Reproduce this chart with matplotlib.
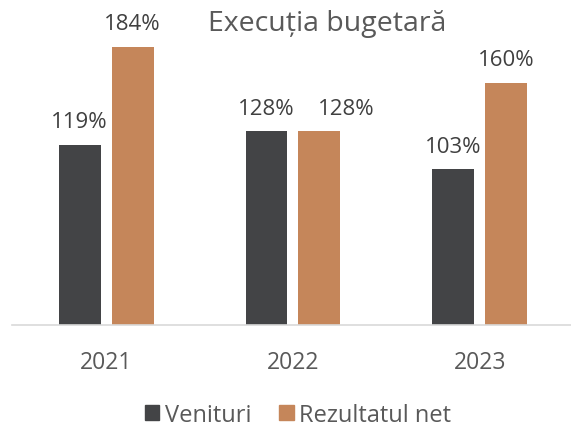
import matplotlib
matplotlib.use("Agg")
import matplotlib.pyplot as plt
import matplotlib.patches as mpatches
import numpy as np

plt.rcParams["font.family"] = ["Open Sans", "DejaVu Sans"]

years = ["2021", "2022", "2023"]
venituri = [119, 128, 103]
rezultat = [184, 128, 160]
series_names = ["Venituri", "Rezultatul net"]
colors = ["#434446", "#C5865A"]

W, H = 571, 427
fig = plt.figure(figsize=(W / 100, H / 100), dpi=100, facecolor="white")

# axes placed in pixel terms: x 12..571, y 20..326 (from top)
ax = fig.add_axes([12 / W, (H - 326) / H, (571 - 12) / W, (326 - 20) / H])
ax.set_xlim(-0.503, 2.487)
ax.set_ylim(0, 306 / 1.513)

x = np.arange(len(years))
off = 0.1417
bw = 0.2246
for k, (vals, dx, col) in enumerate([(venituri, -off, colors[0]), (rezultat, off, colors[1])]):
    bars = ax.bar(x + dx, vals, width=bw, color=col, zorder=2)
    for i, (b, v) in enumerate(zip(bars, vals)):
        # labels of equal height would collide: push the second one right
        shift = 19 if (k == 1 and venituri[i] == v) else 0
        ax.annotate(f"{v}%", (b.get_x() + b.get_width() / 2, v),
                    xytext=(shift, 9), textcoords="offset points",
                    ha="center", va="bottom", fontsize=16, color="#404040")

for s in ["top", "right", "left"]:
    ax.spines[s].set_visible(False)
ax.spines["bottom"].set_color("#D9D9D9")
ax.spines["bottom"].set_linewidth(1.2)
ax.set_yticks([])
ax.set_xticks(x)
ax.set_xticklabels(years, fontsize=16.5, color="#595959")
ax.tick_params(axis="x", length=0, pad=18)

fig.text(327 / W, 1 - 24 / H, "Execuția bugetară", ha="center", va="center",
         fontsize=20.5, color="#595959")

handles = [mpatches.Patch(color=c, label=n) for c, n in zip(colors, series_names)]
fig.legend(handles=handles, loc="center", bbox_to_anchor=(298 / W, 1 - 416 / H),
           ncol=2, frameon=False, fontsize=17, labelcolor="#595959",
           handlelength=0.6, handleheight=0.6, handletextpad=0.25,
           columnspacing=1.2, borderpad=0, borderaxespad=0)

fig.savefig("out.png", dpi=100, facecolor="white")
